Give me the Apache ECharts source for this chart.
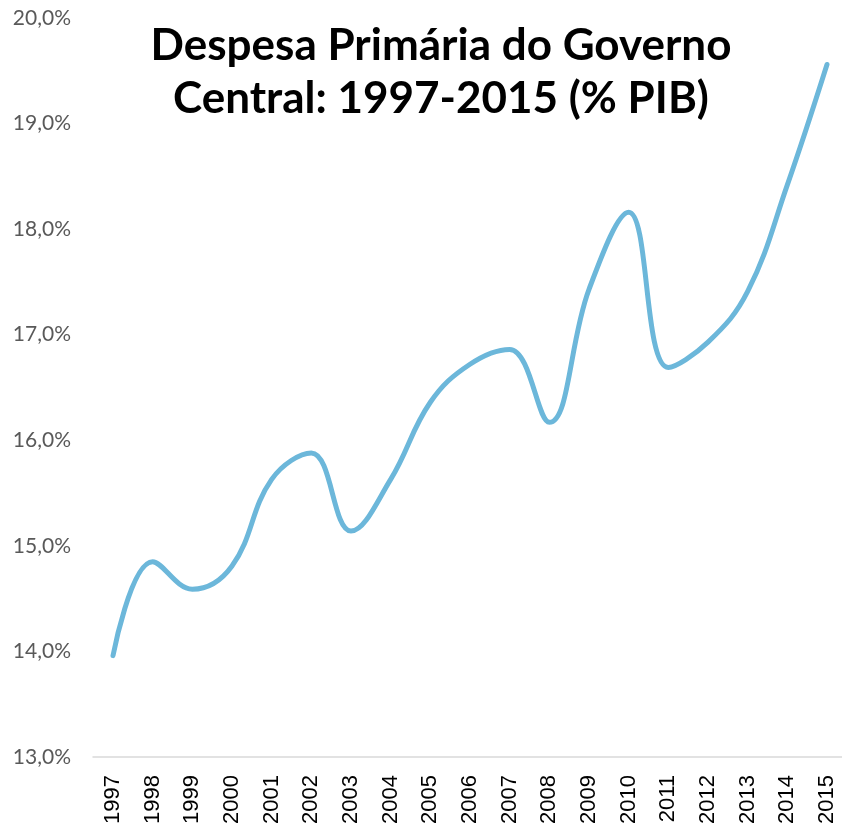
<!DOCTYPE html>
<html>
<head>
<meta charset="utf-8">
<script src="https://cdn.jsdelivr.net/npm/echarts@6/dist/echarts.min.js"></script>
<style>html,body{margin:0;padding:0;background:#fff}#c{width:842px;height:831px}</style>
</head>
<body>
<div id="c"></div>
<script>
const years = ['1997','1998','1999','2000','2001','2002','2003','2004','2005','2006','2007','2008','2009','2010','2011','2012','2013','2014','2015'];
const despesa = [13.96, 14.85, 14.59, 14.81, 15.63, 15.88, 15.14, 15.63, 16.36, 16.72, 16.86, 16.17, 17.43, 18.16, 16.69, 16.93, 17.41, 18.42, 19.56];
const yTicks = { min: 13, max: 20, interval: 1 };
const titleText = 'Despesa Primária do Governo\nCentral: 1997-2015 (% PIB)';

const chart = echarts.init(document.getElementById('c'));
chart.setOption({
  backgroundColor: '#ffffff',
  animation: false,
  title: {
    text: titleText,
    left: 436, top: 14, textAlign: 'center',
    textStyle: { fontFamily: 'Lato', fontWeight: 'bold', fontSize: 44, color: '#000', lineHeight: 53 }
  },
  grid: [
    { left: 113, right: 15, top: 18, bottom: 74, containLabel: false },
    { left: 93, right: 0, top: 18, bottom: 74, containLabel: false }
  ],
  xAxis: [{
    gridIndex: 0, type: 'category', data: years, boundaryGap: false,
    axisLine: { show: false },
    axisTick: { show: false },
    axisLabel: { rotate: 90, color: '#000', fontFamily: 'Liberation Sans', fontSize: 22, margin: 18 }
  }, {
    gridIndex: 1, type: 'category', data: years, boundaryGap: true,
    axisLine: { lineStyle: { color: '#d9d9d9', width: 1.5 } },
    axisTick: { show: false }, axisLabel: { show: false }
  }],
  yAxis: [{
    gridIndex: 0, type: 'value', min: yTicks.min, max: yTicks.max, interval: yTicks.interval,
    axisLine: { show: false }, axisTick: { show: false },
    splitLine: { show: false },
    axisLabel: { color: '#595959', fontFamily: 'Lato', fontSize: 21, margin: 42,
      formatter: v => v.toFixed(1).replace('.', ',') + '%' }
  }, {
    gridIndex: 1, type: 'value', min: yTicks.min, max: yTicks.max, interval: yTicks.interval,
    show: false
  }],
  series: [{
    type: 'line', xAxisIndex: 0, yAxisIndex: 0, data: despesa, smooth: 0.4, showSymbol: false,
    lineStyle: { color: '#6cb7da', width: 5, cap: 'round' }
  }]
});
</script>
</body>
</html>
